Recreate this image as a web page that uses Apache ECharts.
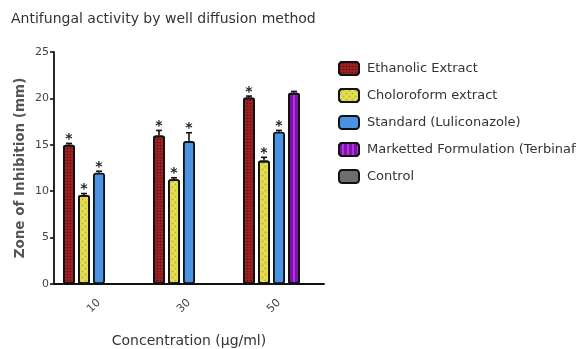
<!DOCTYPE html>
<html><head><meta charset="utf-8">
<script src="https://cdn.jsdelivr.net/npm/echarts@6/dist/echarts.min.js"></script>
<style>html,body{margin:0;padding:0;background:#fff}#c{width:576px;height:349px}</style>
</head><body><div id="c"></div>
<script>
var categories = ['10', '30', '50'];
var seriesNames = ['Ethanolic Extract', 'Choloroform extract', 'Standard (Luliconazole)', 'Marketted Formulation (Terbinafine)', 'Control'];
var ethanolic = [15.0, 16.0, 20.1];
var chloroform = [9.6, 11.3, 13.3];
var standard = [12.0, 15.4, 16.4];
var marketed = [null, null, 20.6];
var control = [null, null, null];
var ethanolicErr = [0.15, 0.55, 0.15];
var chloroformErr = [0.15, 0.15, 0.35];
var standardErr = [0.15, 0.9, 0.15];
var marketedErr = [0, 0, 0.15];
var controlErr = [0, 0, 0];
var significant = [true, true, true, false, false];
var yTicks = [0, 5, 10, 15, 20, 25];

var values = [ethanolic, chloroform, standard, marketed, control];
var errs = [ethanolicErr, chloroformErr, standardErr, marketedErr, controlErr];
var colors = ['#9a2222', '#e6de52', '#4a92e2', '#b232e6', '#6e6e6e'];
var decals = [
  {symbol: 'circle', symbolSize: 0.5, color: 'rgba(60,0,0,0.6)', dashArrayX: [3, 0], dashArrayY: [3, 0]},
  {symbol: 'rect', symbolSize: 0.6, color: 'rgba(160,150,20,0.6)', dashArrayX: [[3, 3], [0, 3, 3, 0]], dashArrayY: [3, 0]},
  'none',
  {symbol: 'rect', symbolSize: 1, color: 'rgba(90,0,120,0.6)', dashArrayX: [3, 2], dashArrayY: [1, 0], rotation: 0},
  'none'
];
var BAR_W = 12, PITCH = 15;

var chart = echarts.init(document.getElementById('c'));
var series = [];
seriesNames.forEach(function (name, i) {
  series.push({
    name: name, type: 'bar', barWidth: BAR_W, barGap: '25%',
    data: values[i],
    itemStyle: {color: colors[i], borderColor: '#111', borderWidth: 1.8, borderRadius: 2,
      decal: decals[i] === 'none' ? undefined : decals[i]},
    emphasis: {disabled: true},
    z: 2
  });
});
// error bars + significance stars
series.push({
  type: 'custom', name: 'err', z: 3, silent: true,
  data: (function () {
    var d = [];
    for (var s = 0; s < values.length; s++)
      for (var c = 0; c < categories.length; c++)
        if (values[s][c] != null) d.push([c, values[s][c], errs[s][c], s]);
    return d;
  })(),
  renderItem: function (params, api) {
    var c = api.value(0), v = api.value(1), e = api.value(2), s = api.value(3);
    var base = api.coord([c, v]);
    var top = api.coord([c, v + e]);
    var x = base[0] + (s - 2) * PITCH;
    var children = [];
    if (e > 0) {
      children.push({type: 'line', shape: {x1: x, y1: base[1], x2: x, y2: top[1]}, style: {stroke: '#111', lineWidth: 1.6}});
      children.push({type: 'line', shape: {x1: x - 3, y1: top[1], x2: x + 3, y2: top[1]}, style: {stroke: '#111', lineWidth: 1.6}});
    }
    if (significant[s]) {
      children.push({type: 'text', style: {text: '*', x: x, y: top[1] + 3, align: 'center', verticalAlign: 'bottom',
        fill: '#222', font: 'bold 14px "DejaVu Sans"'}});
    }
    return {type: 'group', children: children};
  }
});

chart.setOption({
  animation: false,
  title: {text: 'Antifungal activity by well diffusion method', left: 6, top: 7,
    textStyle: {fontFamily: 'DejaVu Sans', fontSize: 14, fontWeight: 'normal', color: '#333'}},
  legend: {
    data: seriesNames, orient: 'vertical', left: 333, top: 56,
    itemWidth: 20, itemHeight: 13, itemGap: 12,
    textStyle: {fontFamily: 'DejaVu Sans', fontSize: 13, color: '#333', padding: [0, 0, 0, 3]},
    selectedMode: false
  },
  grid: {left: 54, top: 52, width: 270, bottom: 65, containLabel: false, outerBoundsMode: 'none'},
  xAxis: {
    type: 'category', data: categories,
    name: 'Concentration (µg/ml)', nameLocation: 'middle', nameGap: 50,
    nameTextStyle: {fontFamily: 'DejaVu Sans', fontSize: 14, color: '#333'},
    axisLine: {lineStyle: {color: '#111', width: 1.8}},
    axisTick: {alignWithLabel: true, length: 5, lineStyle: {color: '#111', width: 1.6}},
    axisLabel: {rotate: 45, margin: 17, fontFamily: 'DejaVu Sans', fontSize: 11, color: '#444'}
  },
  yAxis: {
    type: 'value', min: 0, max: 25, interval: 5,
    name: 'Zone of Inhibition (mm)', nameLocation: 'middle', nameGap: 27,
    nameTextStyle: {fontFamily: 'DejaVu Sans', fontSize: 13.5, fontWeight: 'bold', color: '#555'},
    axisLine: {show: true, lineStyle: {color: '#111', width: 1.8}},
    axisTick: {show: true, length: 4, lineStyle: {color: '#111', width: 1.6}},
    axisLabel: {fontFamily: 'DejaVu Sans', fontSize: 11, color: '#444', margin: 5,
      formatter: function (v) { return yTicks.indexOf(v) >= 0 ? String(v) : ''; }},
    splitLine: {show: false}
  },
  series: series
});
</script></body></html>
